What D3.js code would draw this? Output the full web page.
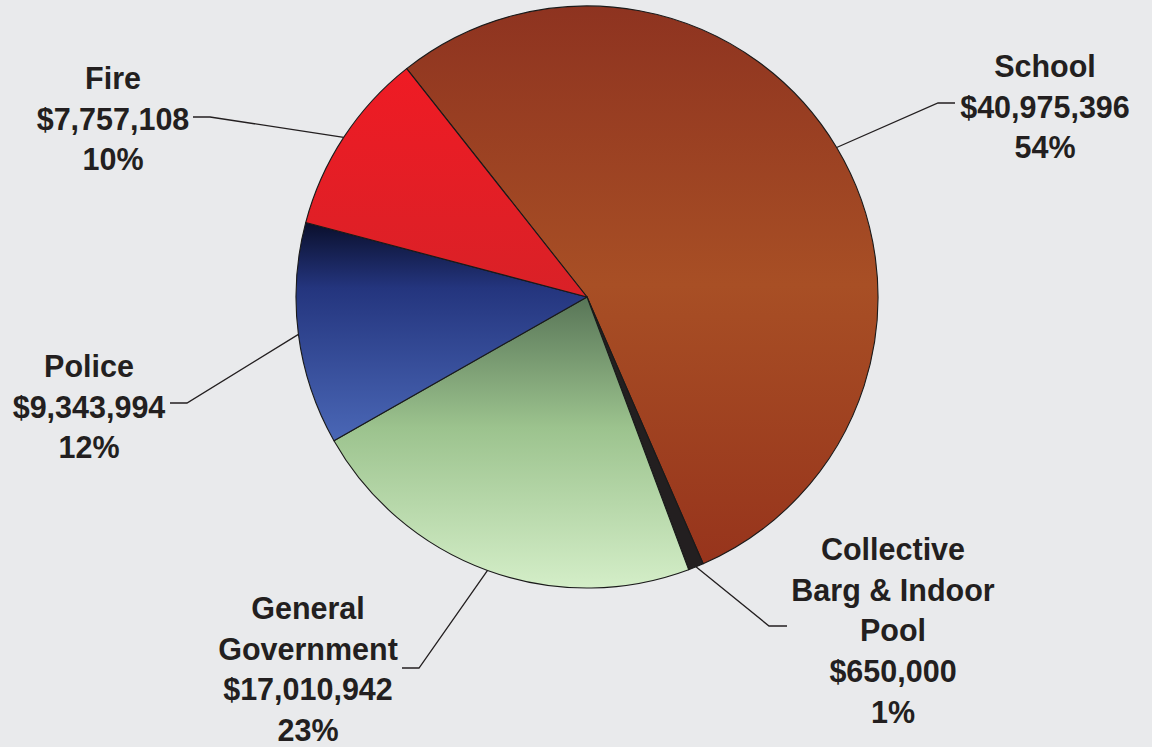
<!DOCTYPE html>
<html>
<head>
<meta charset="utf-8">
<script src="https://cdn.jsdelivr.net/npm/d3@7"></script>
<style>
  html, body { margin: 0; padding: 0; background: #e9eaec; }
  svg { display: block; }
  text { font-family: "Liberation Sans", Arial, Helvetica, sans-serif; font-weight: bold; fill: #231f20; }
</style>
</head>
<body>
<svg id="chart" width="1152" height="747"></svg>
<script>
// Budget breakdown by department
const categories = ["School", "Collective Barg & Indoor Pool", "General Government", "Police", "Fire"];
const amounts = [40975396, 650000, 17010942, 9343994, 7757108];
const percentLabels = ["54%", "1%", "23%", "12%", "10%"];
const nameLines = [["School"], ["Collective", "Barg & Indoor", "Pool"], ["General", "Government"], ["Police"], ["Fire"]];

// Vertical gradient stops for each wedge
const gradientStops = [
  [["0", "#8e3320"], ["0.5", "#a84f25"], ["1", "#97341c"]],
  [["0", "#231f20"], ["1", "#231f20"]],
  [["0", "#587557"], ["0.45", "#9cc38e"], ["1", "#d4eec8"]],
  [["0", "#0a0f2c"], ["0.3", "#24357e"], ["1", "#4a67b6"]],
  [["0", "#ef1b24"], ["1", "#d92127"]]
];

// Label placement: leader elbow, leader end, text column centre, first baseline
const labelLayout = [
  { elbow: [938, 103], end: [955, 103], x: 1045, y: 77 },
  { elbow: [769, 626], end: [787, 626], x: 893, y: 560 },
  { elbow: [419, 668], end: [402, 668], x: 308, y: 619 },
  { elbow: [187, 403], end: [170, 403], x: 89, y: 377 },
  { elbow: [210, 117], end: [193, 117], x: 113, y: 89 }
];

const cx = 587, cy = 297, radius = 291;
const startAngle = -38.3 * Math.PI / 180;
const lineHeight = 40.7;
const fmt = d3.format("$,");

const svg = d3.select("#chart");
const defs = svg.append("defs");

gradientStops.forEach((stops, i) => {
  const g = defs.append("linearGradient")
    .attr("id", "grad" + i)
    .attr("x1", 0).attr("y1", 0).attr("x2", 0).attr("y2", 1);
  stops.forEach(s => g.append("stop").attr("offset", s[0]).attr("stop-color", s[1]));
});

const pie = d3.pie().sort(null)
  .startAngle(startAngle)
  .endAngle(startAngle + 2 * Math.PI);

const arcs = pie(amounts);
const arc = d3.arc().innerRadius(0).outerRadius(radius);
const edgeArc = d3.arc().innerRadius(radius).outerRadius(radius);

const g = svg.append("g").attr("transform", `translate(${cx},${cy})`);

g.selectAll("path.slice")
  .data(arcs)
  .join("path")
  .attr("class", "slice")
  .attr("d", arc)
  .attr("fill", (d, i) => `url(#grad${i})`)
  .attr("stroke", "#1a1a1a")
  .attr("stroke-width", 1.1)
  .attr("stroke-linejoin", "round");

// Leader lines from the rim of each wedge to its label
svg.selectAll("polyline.leader")
  .data(arcs)
  .join("polyline")
  .attr("class", "leader")
  .attr("points", (d, i) => {
    const c = edgeArc.centroid(d);
    const L = labelLayout[i];
    return [[cx + c[0], cy + c[1]], L.elbow, L.end].map(p => p.join(",")).join(" ");
  })
  .attr("fill", "none")
  .attr("stroke", "#231f20")
  .attr("stroke-width", 1.3);

// Labels: name lines, amount, percentage
arcs.forEach((d, i) => {
  const L = labelLayout[i];
  const lines = nameLines[i].concat([fmt(amounts[i]), percentLabels[i]]);
  const t = svg.append("text")
    .attr("text-anchor", "middle")
    .attr("font-size", 30.5);
  lines.forEach((s, k) => {
    t.append("tspan")
      .attr("x", L.x)
      .attr("y", L.y + k * lineHeight)
      .text(s);
  });
});
</script>
</body>
</html>
